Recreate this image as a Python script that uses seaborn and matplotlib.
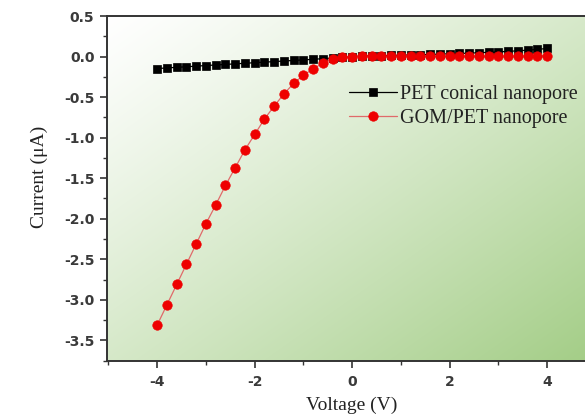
import numpy as np
import pandas as pd
import matplotlib
matplotlib.use("Agg")
import matplotlib.pyplot as plt
from matplotlib.ticker import MultipleLocator, FormatStrFormatter
from matplotlib.colors import to_rgb
import seaborn as sns

voltage = [-4.0, -3.8, -3.6, -3.4, -3.2, -3.0, -2.8, -2.6, -2.4, -2.2,
           -2.0, -1.8, -1.6, -1.4, -1.2, -1.0, -0.8, -0.6, -0.4, -0.2,
           0.0, 0.2, 0.4, 0.6, 0.8, 1.0, 1.2, 1.4, 1.6, 1.8,
           2.0, 2.2, 2.4, 2.6, 2.8, 3.0, 3.2, 3.4, 3.6, 3.8, 4.0]

pet_current = [-0.148, -0.140, -0.133, -0.126, -0.118, -0.111, -0.104, -0.097, -0.090, -0.083,
               -0.076, -0.069, -0.062, -0.055, -0.048, -0.041, -0.034, -0.026, -0.018, -0.010,
               0.000, 0.004, 0.008, 0.011, 0.014, 0.017, 0.020, 0.023, 0.027, 0.030,
               0.034, 0.038, 0.042, 0.047, 0.052, 0.058, 0.064, 0.071, 0.079, 0.088, 0.100]

gom_current = [-3.31, -3.06, -2.81, -2.56, -2.31, -2.06, -1.83, -1.59, -1.37, -1.15,
               -0.96, -0.77, -0.61, -0.46, -0.33, -0.23, -0.15, -0.08, -0.035, -0.008,
               0.000, 0.001, 0.001, 0.002, 0.002, 0.002, 0.003, 0.003, 0.003, 0.004,
               0.004, 0.004, 0.005, 0.005, 0.005, 0.006, 0.006, 0.006, 0.007, 0.007, 0.008]

series_names = ["PET conical nanopore", "GOM/PET nanopore"]

sns.set_style("ticks")
plt.rcParams["axes.unicode_minus"] = False
plt.rcParams["font.family"] = ["DejaVu Sans"]

df_pet = pd.DataFrame({"V": voltage, "I": pet_current})
df_gom = pd.DataFrame({"V": voltage, "I": gom_current})

fig = plt.figure(figsize=(5.85, 4.17), dpi=100)
fig.patch.set_facecolor("white")
ax = fig.add_axes([107 / 585, 56 / 417, (596 - 107) / 585, (361 - 16) / 417])

# gradient background (white top-left -> green bottom-right)
ax.set_autoscale_on(False)
ax.set_xlim(-5.03, 5.0)
ax.set_ylim(-3.754, 0.5)
n = 300
xx, yy = np.meshgrid(np.linspace(0, 1, n), np.linspace(1, 0, n))
t = np.clip((xx + (1 - yy)) / 2.0, 0, 1) ** 1.15
c0 = np.array(to_rgb("#ffffff"))
c1 = np.array(to_rgb("#a3cd86"))
img = c0[None, None, :] * (1 - t[..., None]) + c1[None, None, :] * t[..., None]
ax.imshow(img, extent=[0, 1, 0, 1], transform=ax.transAxes, aspect="auto",
          zorder=0, interpolation="bilinear")

sns.lineplot(data=df_pet, x="V", y="I", ax=ax, color="black", linewidth=0.9,
             marker="s", markersize=5.8, markeredgecolor="black",
             markerfacecolor="black", markeredgewidth=0.5,
             label=series_names[0], zorder=3, estimator=None, sort=False)
sns.lineplot(data=df_gom, x="V", y="I", ax=ax, color="#e06a6a", linewidth=0.9,
             marker="o", markersize=6.8, markeredgecolor="#ee0000",
             markerfacecolor="#ee0000", markeredgewidth=0.5,
             label=series_names[1], zorder=4, estimator=None, sort=False)

ax.set_xlim(-5.03, 5.0)
ax.set_ylim(-3.754, 0.5)

ax.xaxis.set_major_locator(MultipleLocator(2))
ax.xaxis.set_minor_locator(MultipleLocator(1))
ax.yaxis.set_major_locator(MultipleLocator(0.5))
ax.yaxis.set_minor_locator(MultipleLocator(0.25))
ax.yaxis.set_major_formatter(FormatStrFormatter("%.1f"))
ax.xaxis.set_major_formatter(FormatStrFormatter("%d"))

ax.tick_params(axis="both", which="major", direction="out", length=5, width=1.2,
               color="#333333", labelsize=10, labelcolor="#3a3a3a")
ax.tick_params(axis="both", which="minor", direction="out", length=3, width=1.0,
               color="#333333")
ax.tick_params(axis="x", which="major", pad=5)
ax.tick_params(axis="y", which="major", pad=4)
ax.tick_params(top=False, right=False, which="both")
for lab in ax.get_xticklabels() + ax.get_yticklabels():
    lab.set_fontweight("bold")

for side in ["left", "bottom", "top"]:
    ax.spines[side].set_visible(True)
    ax.spines[side].set_color("#333333")
    ax.spines[side].set_linewidth(1.4)
ax.spines["right"].set_visible(False)

serif = ["Liberation Serif", "DejaVu Serif"]
ax.set_xlabel("Voltage (V)", family=serif, fontsize=14, color="#222222")
ax.set_ylabel("Current (\u03bcA)", family=serif, fontsize=14, color="#222222")
ax.xaxis.set_label_coords(0.5, -0.1275)
ax.xaxis.label.set_va("center")
ax.yaxis.set_label_coords(-0.138, 0.533)
ax.yaxis.label.set_va("center")

handles, labels = ax.get_legend_handles_labels()
leg = ax.legend(handles, labels, loc="upper left",
                bbox_to_anchor=(349 / 585, (417 - 85) / 417),
                bbox_transform=fig.transFigure, frameon=False,
                prop={"family": serif, "size": 14.5}, handlelength=2.4,
                handletextpad=0.15, labelspacing=0.22, borderpad=0,
                borderaxespad=0)
for txt in leg.get_texts():
    txt.set_color("#222222")

fig.savefig("out.png", dpi=100)
